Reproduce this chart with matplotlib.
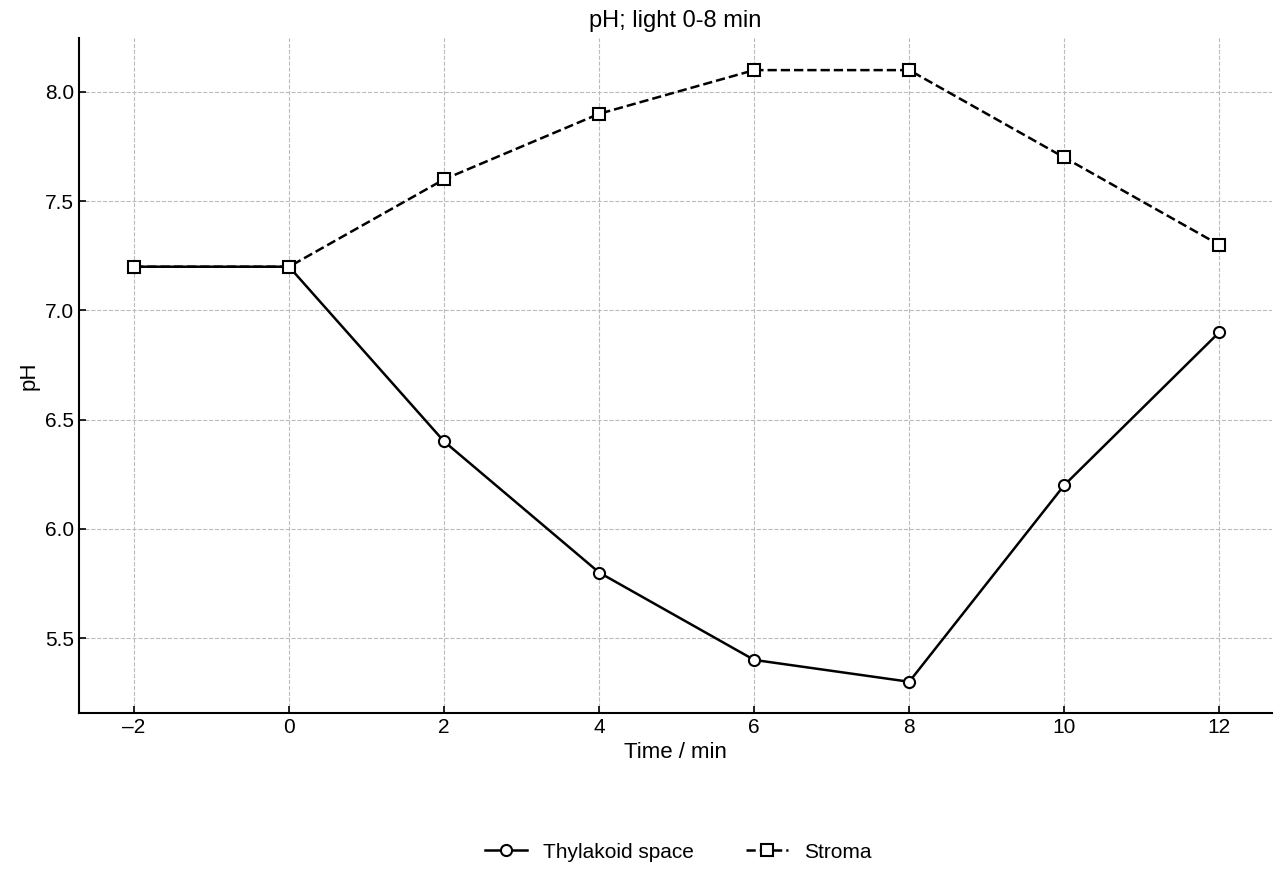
import matplotlib
matplotlib.use("Agg")
import matplotlib.pyplot as plt

time = [-2, 0, 2, 4, 6, 8, 10, 12]
thylakoid = [7.2, 7.2, 6.4, 5.8, 5.4, 5.3, 6.2, 6.9]
stroma = [7.2, 7.2, 7.6, 7.9, 8.1, 8.1, 7.7, 7.3]

plt.rcParams['font.family'] = ['Liberation Sans', 'DejaVu Sans']
plt.rcParams['font.size'] = 12.5

fig = plt.figure(figsize=(12.8, 8.8), dpi=100)
ax = fig.add_axes([79/1280, 1-713/880, (1272-79)/1280, (713-38)/880])
ax.plot(time, thylakoid, '-', color='black', lw=1.8, marker='o', ms=8,
        mfc='white', mec='black', mew=1.5, label='Thylakoid space')
ax.plot(time, stroma, '--', color='black', lw=1.8, marker='s', ms=8,
        mfc='white', mec='black', mew=1.5, label='Stroma')
ax.set_xlim(-2.71, 12.68)
ax.set_ylim(5.157, 8.247)
ax.set_xticks(time)
ax.set_xticklabels(['\u20132'] + [str(t) for t in time[1:]])
ax.set_yticks([5.5, 6.0, 6.5, 7.0, 7.5, 8.0])
ax.grid(True, ls='--', color='#bbbbbb', lw=0.8)
ax.set_axisbelow(True)
ax.spines['top'].set_visible(False)
ax.spines['right'].set_visible(False)
ax.spines['left'].set_linewidth(1.5)
ax.spines['bottom'].set_linewidth(1.5)
ax.tick_params(direction='in', length=5, width=1.2, labelsize=15)
ax.set_xlabel('Time / min', fontsize=16)
ax.set_ylabel('pH', fontsize=16)
ax.set_title('pH; light 0-8 min', fontsize=17, pad=8)
fig.legend(loc='center', bbox_to_anchor=(0.53, 1-852/880), ncol=2,
           frameon=False, fontsize=15, columnspacing=2.5)
fig.savefig('out.png', dpi=100)
